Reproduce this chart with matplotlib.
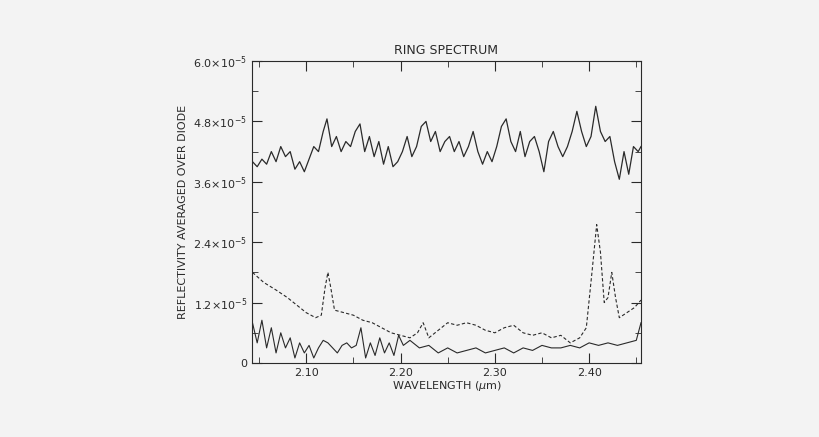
import numpy as np
import matplotlib.pyplot as plt

# values in units of 1e-5
wl_top = [2.043, 2.048, 2.053, 2.058, 2.063, 2.068, 2.073, 2.078, 2.083, 2.088, 2.093,
          2.098, 2.103, 2.108, 2.113, 2.118, 2.122, 2.127, 2.132, 2.137, 2.142, 2.147,
          2.152, 2.157, 2.162, 2.167, 2.172, 2.177, 2.182, 2.187, 2.192, 2.197, 2.202,
          2.207, 2.212, 2.217, 2.222, 2.227, 2.232, 2.237, 2.242, 2.247, 2.252, 2.257,
          2.262, 2.267, 2.272, 2.277, 2.282, 2.287, 2.292, 2.297, 2.302, 2.307, 2.312,
          2.317, 2.322, 2.327, 2.332, 2.337, 2.342, 2.347, 2.352, 2.357, 2.362, 2.367,
          2.372, 2.377, 2.382, 2.387, 2.392, 2.397, 2.402, 2.407, 2.412, 2.417, 2.422,
          2.427, 2.432, 2.437, 2.442, 2.447, 2.452, 2.455]
top = [4.0, 3.9, 4.05, 3.95, 4.2, 4.0, 4.3, 4.1, 4.2, 3.85, 4.0,
       3.8, 4.05, 4.3, 4.2, 4.6, 4.85, 4.3, 4.5, 4.2, 4.4, 4.3,
       4.6, 4.75, 4.2, 4.5, 4.1, 4.4, 3.95, 4.3, 3.9, 4.0, 4.2,
       4.5, 4.1, 4.3, 4.7, 4.8, 4.4, 4.6, 4.2, 4.4, 4.5, 4.2,
       4.4, 4.1, 4.3, 4.6, 4.2, 3.95, 4.2, 4.0, 4.3, 4.7, 4.85,
       4.4, 4.2, 4.6, 4.1, 4.4, 4.5, 4.2, 3.8, 4.4, 4.6, 4.3,
       4.1, 4.3, 4.6, 5.0, 4.6, 4.3, 4.5, 5.1, 4.6, 4.4, 4.5,
       4.0, 3.65, 4.2, 3.75, 4.3, 4.2, 4.3]

wl_dash = [2.043, 2.055, 2.068, 2.08, 2.09, 2.10, 2.11, 2.116, 2.12, 2.123, 2.126, 2.13,
           2.14, 2.15, 2.16, 2.17, 2.18, 2.19, 2.20, 2.21, 2.218, 2.224, 2.23, 2.24,
           2.25, 2.26, 2.27, 2.28, 2.29, 2.30, 2.31, 2.32, 2.33, 2.34, 2.35, 2.36,
           2.37, 2.38, 2.39, 2.397, 2.403, 2.408, 2.412, 2.416, 2.42, 2.424, 2.428,
           2.432, 2.44, 2.448, 2.455]
dash = [1.8, 1.6, 1.45, 1.3, 1.15, 1.0, 0.9, 0.95, 1.5, 1.8, 1.5, 1.05,
        1.0, 0.95, 0.85, 0.8, 0.7, 0.6, 0.55, 0.5, 0.6, 0.8, 0.5, 0.65,
        0.8, 0.75, 0.8, 0.75, 0.65, 0.6, 0.7, 0.75, 0.6, 0.55, 0.6, 0.5,
        0.55, 0.4, 0.5, 0.7, 1.8, 2.75, 2.2, 1.2, 1.3, 1.8, 1.3,
        0.9, 1.0, 1.1, 1.25]

wl_bot = [2.043, 2.048, 2.053, 2.058, 2.063, 2.068, 2.073, 2.078, 2.083, 2.088, 2.093,
          2.098, 2.103, 2.108, 2.113, 2.118, 2.123, 2.128, 2.133, 2.138, 2.143, 2.148,
          2.153, 2.158, 2.163, 2.168, 2.173, 2.178, 2.183, 2.188, 2.193, 2.198, 2.203,
          2.21, 2.22, 2.23, 2.24, 2.25, 2.26, 2.27, 2.28, 2.29, 2.30, 2.31, 2.32,
          2.33, 2.34, 2.35, 2.36, 2.37, 2.38, 2.39, 2.40, 2.41, 2.42, 2.43, 2.44,
          2.45, 2.455]
bot = [0.8, 0.4, 0.85, 0.3, 0.7, 0.2, 0.6, 0.3, 0.5, 0.1, 0.4,
       0.2, 0.35, 0.1, 0.3, 0.45, 0.4, 0.3, 0.2, 0.35, 0.4, 0.3,
       0.35, 0.7, 0.1, 0.4, 0.15, 0.5, 0.2, 0.4, 0.15, 0.55, 0.35,
       0.45, 0.3, 0.35, 0.2, 0.3, 0.2, 0.25, 0.3, 0.2, 0.25, 0.3, 0.2,
       0.3, 0.25, 0.35, 0.3, 0.3, 0.35, 0.3, 0.4, 0.35, 0.4, 0.35, 0.4,
       0.45, 0.8]

yticks = [0, 1.2, 2.4, 3.6, 4.8, 6.0]
ylabels = ['0', r'1.2$\times$10$^{-5}$', r'2.4$\times$10$^{-5}$', r'3.6$\times$10$^{-5}$',
           r'4.8$\times$10$^{-5}$', r'6.0$\times$10$^{-5}$']

bg = '#f3f3f3'
ink = '#2a2a2a'
fig = plt.figure(figsize=(8.2, 4.37), dpi=100, facecolor=bg)
ax = fig.add_axes([252/820, (437-363)/437, 389/820, 302/437], facecolor=bg)
ax.plot(wl_top, top, color=ink, lw=0.9)
ax.plot(wl_dash, dash, color=ink, lw=0.8, ls=(0, (3, 2)))
ax.plot(wl_bot, bot, color=ink, lw=0.8)
ax.set_xlim(2.0425, 2.455)
ax.set_ylim(0, 6.0)
ax.set_xticks([2.10, 2.20, 2.30, 2.40])
ax.set_xticklabels(['2.10', '2.20', '2.30', '2.40'])
ax.set_yticks(yticks)
ax.set_yticklabels(ylabels)
ax.set_xticks([2.05, 2.15, 2.25, 2.35, 2.45], minor=True)
ax.set_yticks([0.6, 1.8, 3.0, 4.2, 5.4], minor=True)
for s in ax.spines.values():
    s.set_color(ink)
ax.tick_params(which='both', direction='in', top=True, right=True, labelsize=8,
               color=ink, labelcolor=ink)
ax.tick_params(which='major', length=7)
ax.tick_params(which='minor', length=4)
ax.set_xlabel(r'WAVELENGTH ($\mu$m)', fontsize=8, labelpad=1, color=ink)
ax.set_ylabel('REFLECTIVITY AVERAGED OVER DIODE', fontsize=8, color=ink)
ax.set_title('RING SPECTRUM', fontsize=9, pad=5, color=ink)
fig.savefig('out.png', facecolor=bg)
